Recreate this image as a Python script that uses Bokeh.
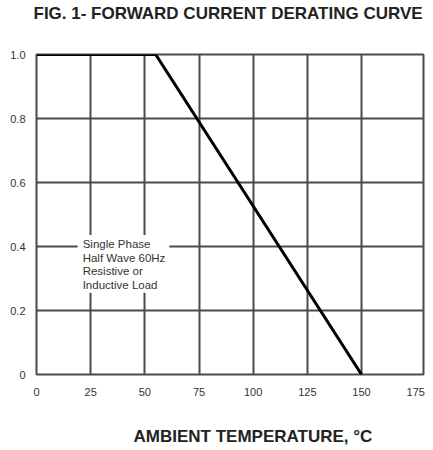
from bokeh.plotting import figure
from bokeh.models import Label, Title, FixedTicker
from bokeh.embed import file_html
from bokeh.resources import INLINE

# data
temperature = [0, 55, 150]
current = [1.0, 1.0, 0.0]
x_ticks = [0, 25, 50, 75, 100, 125, 150, 175]
x_grid_ticks = [25, 50, 75, 100, 125, 150]
y_ticks = [0, 0.2, 0.4, 0.6, 0.8, 1.0]
y_tick_labels = ["0", "0.2", "0.4", "0.6", "0.8", "1.0"]
title_text = "FIG. 1- FORWARD CURRENT DERATING CURVE"
x_label = "AMBIENT TEMPERATURE, \u00b0C"
note_text = "Single Phase\nHalf Wave 60Hz\nResistive or\nInductive Load"

FONT = "Liberation Sans"
GRID = "#4a4a4a"

p = figure(width=430, height=445, output_backend="svg", toolbar_location=None,
           x_range=(0, 178.6), y_range=(0, 1.0),
           min_border_left=36, min_border_right=7, min_border_top=54, min_border_bottom=70)
p.title = None

# spacer + title above the frame
p.add_layout(Title(text=" ", text_font_size="1px", standoff=29), "above")
p.add_layout(Title(text=title_text, text_font=FONT, text_font_size="17px",
                   text_font_style="bold", text_color="#222222", align="left",
                   offset=-3, standoff=0), "above")

p.outline_line_color = GRID
p.outline_line_width = 2

p.xaxis.ticker = FixedTicker(ticks=x_ticks)
p.yaxis.ticker = FixedTicker(ticks=y_ticks)
p.xgrid.ticker = FixedTicker(ticks=x_grid_ticks)
p.yaxis.major_label_overrides = {t: l for t, l in zip(y_ticks, y_tick_labels)}
for ax in (p.xaxis, p.yaxis):
    ax.axis_line_color = None
    ax.major_tick_line_color = None
    ax.minor_tick_line_color = None
    ax.major_label_text_font = FONT
    ax.major_label_text_font_size = "11px"
    ax.major_label_text_color = "#333333"
p.xaxis.major_label_standoff = 7
p.yaxis.major_label_standoff = 5

# spacer + x axis label below the tick labels
p.add_layout(Title(text=" ", text_font_size="1px", standoff=23), "below")
p.add_layout(Title(text=x_label, text_font=FONT, text_font_size="17px",
                   text_font_style="bold", text_color="#222222", align="left",
                   offset=97, standoff=0), "below")

p.grid.grid_line_color = GRID
p.grid.grid_line_width = 2
p.grid.grid_line_alpha = 1.0

p.line(temperature, current, line_color="black", line_width=3)

note = Label(x=19, y=0.436, text=note_text, text_font=FONT, text_font_size="11.5px",
             text_color="#333333", text_baseline="top", text_align="left",
             background_fill_color="white", text_line_height=1.13,
             padding=dict(left=5, right=4, top=3, bottom=2))
p.add_layout(note)

open("out.html", "w").write(file_html(p, INLINE))
